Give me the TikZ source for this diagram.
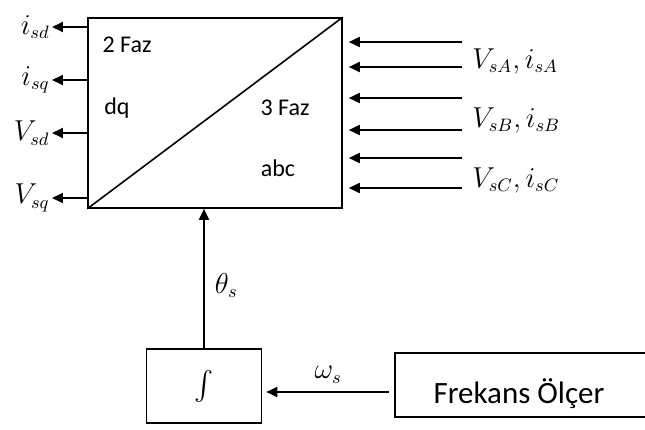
\documentclass[tikz,border=0pt]{standalone}
\usepackage{amsmath}
\usepackage{fontspec}
\setmainfont{Carlito}
\usepackage{tikz}
\usetikzlibrary{arrows.meta, positioning, calc}

\begin{document}
\begin{tikzpicture}[
        x=0.5pt, y=-0.5pt,
        blok/.style={draw, line width=0.8pt, rectangle, inner sep=0pt},
        arr/.style={-{Triangle[length=5.5pt, width=5pt]}, line width=0.9pt},
        yazi/.style={font=\fontsize{12}{14}\selectfont, inner sep=0pt},
        isaret/.style={font=\fontsize{13.5}{15}\selectfont, inner sep=1pt}
    ]
        \useasboundingbox (0,0) rectangle (645,430);
        \clip (0,0) rectangle (645,430);
        % Transformation block
        \node[blok, minimum width=127pt, minimum height=95pt] (box) at (215,113) {};
        \draw[line width=0.8pt] (box.south west) -- (box.north east);
        \node[yazi] (faz2) at (127,45) {2 Faz};
        \node[yazi] (dq) at (117,108) {dq};
        \node[yazi] (faz3) at (285,108) {3 Faz};
        \node[yazi] (abc) at (278,168) {abc};
        % Outputs (dq side)
        \node[isaret, anchor=east] (isd) at (52,27) {$i_{sd}$};
        \node[isaret, anchor=east] (isq) at (52,80) {$i_{sq}$};
        \node[isaret, anchor=east] (vsd) at (52,133) {$V_{sd}$};
        \node[isaret, anchor=east] (vsq) at (52,198) {$V_{sq}$};
        \draw[arr] (box.west |- isd) -- (isd);
        \draw[arr] (box.west |- isq) -- (isq);
        \draw[arr] (box.west |- vsd) -- (vsd);
        \draw[arr] (box.west |- vsq) -- (vsq);
        % Inputs (abc side)
        \coordinate (g1) at (462,42);
        \coordinate (g2) at (462,67);
        \coordinate (g3) at (462,98);
        \coordinate (g4) at (462,130);
        \coordinate (g5) at (462,158);
        \coordinate (g6) at (462,188);
        \draw[arr, shorten >=3pt] (g1) -- (g1 -| box.east);
        \draw[arr, shorten >=3pt] (g2) -- (g2 -| box.east);
        \draw[arr, shorten >=3pt] (g3) -- (g3 -| box.east);
        \draw[arr, shorten >=3pt] (g4) -- (g4 -| box.east);
        \draw[arr, shorten >=3pt] (g5) -- (g5 -| box.east);
        \draw[arr, shorten >=3pt] (g6) -- (g6 -| box.east);
        \node[isaret, anchor=west] (ga) at (470,61) {$V_{sA}, i_{sA}$};
        \node[isaret, anchor=west] (gb) at (470,120) {$V_{sB}, i_{sB}$};
        \node[isaret, anchor=west] (gc) at (470,180) {$V_{sC}, i_{sC}$};
        % Integrator
        \node[blok, minimum width=57.5pt, minimum height=37pt, font=\fontsize{14}{16}\selectfont] (int) at (204,386) {$\int$};
        \draw[arr] (int.north) -- (int.north |- box.south)
            node[isaret, pos=0.45, right=4pt] (theta) {$\theta_s$};
        % Frequency meter
        \node[blok, minimum width=132.5pt, minimum height=32pt] (fo) at (527.5,385) {};
        \node[font=\fontsize{15.5}{18}\selectfont, inner sep=0pt] (fotext) at (519,394) {Frekans Ölçer};
        \draw[arr, shorten <=2.5pt, shorten >=2pt] ([yshift=-3.5pt]fo.west) -- ([yshift=-3.5pt]fo.west -| int.east)
            node[isaret, midway, above=3pt] (omega) {$\omega_s$};
    \end{tikzpicture}
\end{document}
